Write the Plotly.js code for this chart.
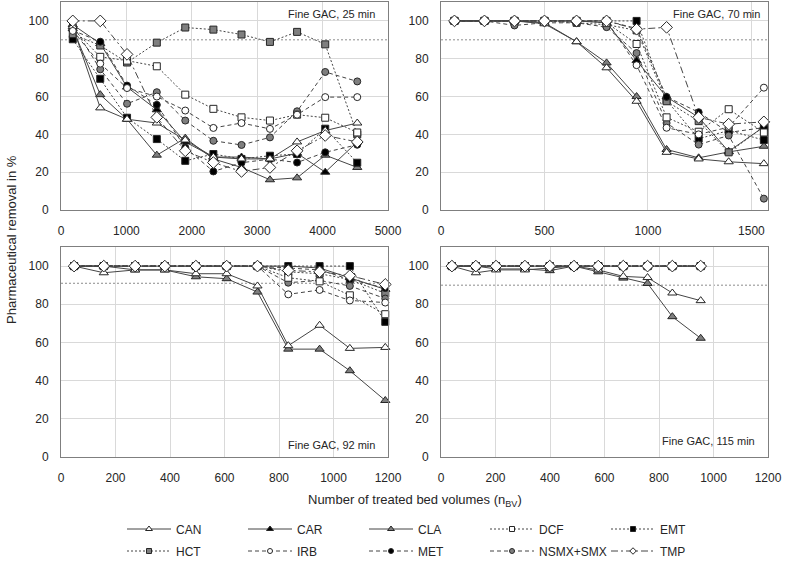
<!DOCTYPE html>
<html>
<head>
<meta charset="utf-8">
<script src="https://cdn.plot.ly/plotly-3.0.1.min.js"></script>
<style>
html,body{margin:0;padding:0;background:#ffffff;}
#chart{width:787px;height:561px;}
</style>
</head>
<body>
<div id="chart"></div>
<script>
// ---------------- DATA ----------------
const seriesNames = ['CAN', 'CAR', 'CLA', 'DCF', 'EMT', 'HCT', 'IRB', 'MET', 'NSMX+SMX', 'TMP'];
const panelLabels = ['Fine GAC, 25 min', 'Fine GAC, 70 min', 'Fine GAC, 92 min', 'Fine GAC, 115 min'];
const thresholds = [90, 90, 91, 90];
const yAxisTitle = 'Pharmaceutical removal in %';
const xAxisTitle = 'Number of treated bed volumes (n<sub>BV</sub>)';

// Panel 1: Fine GAC, 25 min
const bv25   = [180, 600, 1010, 1465, 1900, 2330, 2760, 3195, 3610, 4040, 4530];
const can25  = [97, 54, 48, 46, 37, 28, 27, 27, 36, 42, 46];
const car25  = [98, 88, 65, 53, 36, 28, 28, 27, 30, 20, 36];
const cla25  = [96, 61, 48, 29, 38, 27, 22.5, 16, 17, 29, 22.5];
const dcf25  = [96, 81, 79, 76, 61, 53.5, 49, 47.3, 50.4, 48.8, 41];
const emt25  = [90.3, 69.4, 48.8, 37.5, 26, 29.6, 27, 28.7, 29.6, 43, 25];
const hct25  = [93, 87, 78, 88.5, 96.5, 95.4, 92.8, 88.9, 94.2, 87.6, 40];
const irb25  = [94.7, 77.4, 64.5, 60, 52.6, 43.4, 46, 42.9, 50.4, 59.7, 59.7];
const met25  = [95, 89, 65.8, 55.6, 33, 20.4, 25, 26.9, 25.1, 30.5, 34.5];
const nsmx25 = [97.7, 74.4, 56.2, 62.3, 47.3, 36.6, 34.4, 38.4, 52.2, 73, 68];
const tmp25  = [100, 100, 82.3, 49, 31.3, 25.1, 20.4, 22.5, 31.3, 39.4, 36];

// Panel 2: Fine GAC, 70 min
const bv70   = [65, 210, 355, 500, 655, 800, 945, 1090, 1245, 1390, 1560];
const can70  = [100, 100, 100, 98.5, 89, 75.2, 57.5, 30.5, 27, 25.5, 24.5];
const car70  = [100, 100, 100, 100, 100, 99, 79, 59.8, 49, 31, 44];
const cla70  = [100, 100, 100, 99, 89, 77.8, 60, 32, 27.6, 30.7, 33.7];
const dcf70  = [100, 100, 100, 100, 100, 99, 87.8, 49, 41.4, 53.3, 41];
const emt70  = [100, 100, 100, 100, 100, 100, 100, 58, 37.7, 42, 37];
const hct70  = [100, 100, 100, 100, 99, 98, 95, 57.5, 47, 30.5, 44];
const irb70  = [100, 100, 100, 100, 100, 100, 76.6, 43.5, 40, 43.8, 64.7];
const met70  = [100, 100, 100, 100, 100, 100, 96, 59.8, 51.7, 41, 43.6];
const nsmx70 = [100, 100, 97.6, 99, 99, 96.7, 83, 46, 34.6, 39.4, 6];
const tmp70  = [100, 100, 100, 100, 100, 100, 95.6, 96.6, 49, 45.4, 46.6];

// Panel 3: Fine GAC, 92 min
const bv92   = [48, 157, 272, 381, 495, 608, 721, 834, 949, 1060, 1190];
const can92  = [100, 96.5, 98, 98, 96, 96, 89.6, 58.3, 69, 56.9, 57.4];
const car92  = [100, 100, 100, 100, 100, 100, 100, 100, 99, 94, 87.8];
const cla92  = [100, 100, 98, 98, 94.4, 93.4, 86.4, 56.5, 56.5, 45.2, 29.6];
const dcf92  = [100, 100, 100, 100, 100, 100, 100, 93.9, 92, 84.7, 74.8];
const emt92  = [100, 100, 100, 100, 100, 100, 100, 100, 100, 100, 70.8];
const hct92  = [100, 100, 100, 100, 100, 100, 100, 97, 96, 93, 85.7];
const irb92  = [100, 100, 100, 100, 100, 100, 100, 85.2, 87.5, 82, 80.9];
const met92  = [100, 100, 100, 100, 100, 100, 100, 99, 98, 93, 88.5];
const nsmx92 = [100, 100, 100, 100, 100, 100, 100, 91.3, 92.5, 89.6, 83];
const tmp92  = [100, 100, 100, 100, 100, 100, 100, 97.7, 97, 95, 90.4];

// Panel 4: Fine GAC, 115 min
const bv115   = [40, 128, 202, 308, 399, 488, 577, 669, 758, 849, 953];
const can115  = [100, 96.5, 98, 98, 99, 100, 98, 94.6, 94, 85.9, 81.9];
const car115  = [100, 100, 100, 100, 100, 100, 100, 100, 100, 100, 100];
const cla115  = [100, 100, 98.5, 98.5, 97.6, 100, 97, 93.7, 90.9, 73.5, 62.2];
const dcf115  = [100, 100, 100, 100, 100, 100, 100, 100, 100, 100, 100];
const emt115  = [100, 100, 100, 100, 100, 100, 100, 100, 100, 100, 100];
const hct115  = [100, 100, 100, 100, 100, 100, 100, 100, 100, 100, 100];
const irb115  = [100, 100, 100, 100, 100, 100, 100, 100, 100, 100, 100];
const met115  = [100, 100, 100, 100, 100, 100, 100, 100, 100, 100, 100];
const nsmx115 = [100, 100, 100, 100, 100, 100, 100, 100, 100, 100, 100];
const tmp115  = [100, 100, 100, 100, 100, 100, 100, 100, 100, 100, 100];

// ---------------- ASSEMBLY ----------------
const panelX = [bv25, bv70, bv92, bv115];
const panelY = [
  [can25, car25, cla25, dcf25, emt25, hct25, irb25, met25, nsmx25, tmp25],
  [can70, car70, cla70, dcf70, emt70, hct70, irb70, met70, nsmx70, tmp70],
  [can92, car92, cla92, dcf92, emt92, hct92, irb92, met92, nsmx92, tmp92],
  [can115, car115, cla115, dcf115, emt115, hct115, irb115, met115, nsmx115, tmp115]
];

const FONT = 'Liberation Sans, Arial, sans-serif';
const LINE = '#454545';
const EDGE = '#262626';
const styles = {
  'CAN':      {dash: 'solid', symbol: 'triangle-up', fill: '#ffffff', size: 8},
  'CAR':      {dash: 'solid', symbol: 'triangle-up', fill: '#000000', size: 8},
  'CLA':      {dash: 'solid', symbol: 'triangle-up', fill: '#7f7f7f', size: 8},
  'DCF':      {dash: '2px,2px', symbol: 'square', fill: '#ffffff', size: 7},
  'EMT':      {dash: '2px,2px', symbol: 'square', fill: '#000000', size: 7},
  'HCT':      {dash: '2px,2px', symbol: 'square', fill: '#7f7f7f', size: 7},
  'IRB':      {dash: '4px,3px', symbol: 'circle', fill: '#ffffff', size: 7},
  'MET':      {dash: '4px,3px', symbol: 'circle', fill: '#000000', size: 7},
  'NSMX+SMX': {dash: '4px,3px', symbol: 'circle', fill: '#7f7f7f', size: 7},
  'TMP':      {dash: '7px,3px,2px,3px', symbol: 'diamond', fill: '#ffffff', size: 9}
};
// draw order: filled markers first, open markers on top
const drawOrder = [1, 2, 4, 5, 7, 8, 3, 0, 6, 9];

const axisIds = ['', '2', '3', '4'];
const traces = [];
for (let p = 0; p < 4; p++) {
  for (const s of drawOrder) {
    const name = seriesNames[s];
    const st = styles[name];
    traces.push({
      type: 'scatter',
      mode: 'lines+markers',
      x: panelX[p],
      y: panelY[p][s],
      xaxis: 'x' + axisIds[p],
      yaxis: 'y' + axisIds[p],
      name: name,
      showlegend: false,
      line: {color: LINE, width: 1, dash: st.dash},
      marker: {symbol: st.symbol, size: st.size, color: st.fill, line: {color: EDGE, width: 1}},
      cliponaxis: false
    });
  }
}
// legend entries (small symbols as in the reference key)
seriesNames.forEach((name, s) => {
  const st = styles[name];
  traces.push({
    type: 'scatter', mode: 'lines+markers',
    x: [null], y: [null], xaxis: 'x', yaxis: 'y',
    name: name, showlegend: true,
    legend: s < 5 ? 'legend' : 'legend2', legendrank: s,
    line: {color: LINE, width: 1, dash: st.dash},
    marker: {symbol: st.symbol, size: st.symbol === 'triangle-up' ? 6 : 5, color: st.fill, line: {color: EDGE, width: 1}}
  });
});

const L = 61, R = 19, T = 2, B = 104, W = 787, H = 561;
const pw = W - L - R, ph = H - T - B;
const px2x = v => (v - L) / pw;
const py2y = v => (H - B - v) / ph;

const leftDom = [0, px2x(388)];
const rightDom = [px2x(441), 1];
const topDom = [py2y(210), 1];
const botDom = [0, py2y(247)];

function xax(domain, anchor, range, dtick) {
  return {
    domain: domain, anchor: anchor, range: range, dtick: dtick, tick0: 0,
    showgrid: true, gridcolor: '#d9d9d9', gridwidth: 1,
    showline: true, linecolor: '#7f7f7f', linewidth: 1, mirror: true,
    zeroline: false, ticks: '', ticklabelstandoff: 10,
    tickfont: {family: FONT, size: 12, color: '#262626'},
    fixedrange: true
  };
}
function yax(domain, anchor) {
  return {
    domain: domain, anchor: anchor, range: [0, 110], dtick: 20, tick0: 0,
    showgrid: true, gridcolor: '#d9d9d9', gridwidth: 1,
    showline: true, linecolor: '#7f7f7f', linewidth: 1, mirror: true,
    zeroline: false, ticks: '', ticklabelstandoff: 9,
    tickfont: {family: FONT, size: 12, color: '#262626'},
    fixedrange: true
  };
}

const shapes = thresholds.map((t, p) => ({
  type: 'line', xref: 'x' + axisIds[p] + ' domain', yref: 'y' + axisIds[p],
  x0: 0, x1: 1, y0: t, y1: t,
  line: {color: '#8c8c8c', width: 1, dash: '2px,2px'}, layer: 'below'
}));

const labelFont = {family: FONT, size: 11, color: '#262626'};
const annotations = [
  {xref: 'x domain', yref: 'y domain', x: 0.966, y: 0.94, xanchor: 'right', yanchor: 'middle', text: panelLabels[0], showarrow: false, font: labelFont},
  {xref: 'x2 domain', yref: 'y2 domain', x: 0.983, y: 0.94, xanchor: 'right', yanchor: 'middle', text: panelLabels[1], showarrow: false, font: labelFont},
  {xref: 'x3 domain', yref: 'y3 domain', x: 0.966, y: 0.055, xanchor: 'right', yanchor: 'middle', text: panelLabels[2], showarrow: false, font: labelFont},
  {xref: 'x4 domain', yref: 'y4 domain', x: 0.966, y: 0.075, xanchor: 'right', yanchor: 'middle', text: panelLabels[3], showarrow: false, font: labelFont},
  {xref: 'paper', yref: 'paper', x: px2x(12), y: py2y(240), xanchor: 'center', yanchor: 'middle', textangle: -90,
   text: yAxisTitle, showarrow: false, font: {family: FONT, size: 13, color: '#262626'}},
  {xref: 'paper', yref: 'paper', x: px2x(415), y: py2y(500), xanchor: 'center', yanchor: 'middle',
   text: xAxisTitle, showarrow: false, font: {family: FONT, size: 13, color: '#262626'}}
];

const legendBase = {
  orientation: 'h', xanchor: 'left', yanchor: 'middle',
  itemwidth: 44, entrywidth: 62, entrywidthmode: 'pixels',
  font: {family: FONT, size: 12, color: '#262626'},
  bgcolor: 'rgba(0,0,0,0)', borderwidth: 0, traceorder: 'normal'
};

const layout = {
  width: W, height: H,
  margin: {l: L, r: R, t: T, b: B, autoexpand: false},
  paper_bgcolor: '#ffffff', plot_bgcolor: '#ffffff',
  font: {family: FONT, size: 12, color: '#262626'},
  xaxis:  xax(leftDom, 'y', [0, 5000], 1000),
  yaxis:  yax(topDom, 'x'),
  xaxis2: xax(rightDom, 'y2', [0, 1580], 500),
  yaxis2: yax(topDom, 'x2'),
  xaxis3: xax(leftDom, 'y3', [0, 1200], 200),
  yaxis3: yax(botDom, 'x3'),
  xaxis4: xax(rightDom, 'y4', [0, 1200], 200),
  yaxis4: yax(botDom, 'x4'),
  shapes: shapes,
  annotations: annotations,
  showlegend: true,
  legend:  Object.assign({}, legendBase, {x: px2x(122), y: py2y(529)}),
  legend2: Object.assign({}, legendBase, {x: px2x(122), y: py2y(551)})
};

Plotly.newPlot('chart', traces, layout, {displayModeBar: false, staticPlot: true});
</script>
</body>
</html>
